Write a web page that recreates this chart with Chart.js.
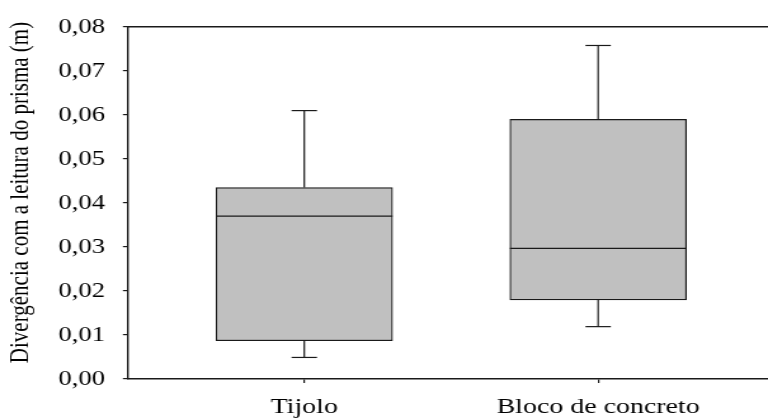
<!DOCTYPE html>
<html>
<head>
<meta charset="utf-8">
<script src="https://cdn.jsdelivr.net/npm/chart.js@4.4.1/dist/chart.umd.min.js"></script>
<style>
  html, body { margin: 0; padding: 0; background: #fff; }
</style>
</head>
<body>
<!-- the source figure is stretched sideways, so the canvas is drawn 605 wide and shown 768 wide -->
<canvas id="chart" width="605" height="420" style="width:768px;height:420px"></canvas>
<script>
const categories = ['Tijolo', 'Bloco de concreto'];
const minimo = [0.0049, 0.0119];
const quartil1 = [0.0087, 0.0180];
const mediana = [0.0370, 0.0297];
const quartil3 = [0.0435, 0.0590];
const maximo = [0.0610, 0.0758];
const yTicks = [0, 0.01, 0.02, 0.03, 0.04, 0.05, 0.06, 0.07, 0.08];

const LINE = '#1a1a1a';
const BOX_FILL = '#c0c0c0';

Chart.defaults.font.family = '"Liberation Serif", "Times New Roman", serif';
Chart.defaults.color = '#000';

// whiskers, caps and median line, placed with the chart's own scales
const boxWhiskers = {
    id: 'boxWhiskers',
    afterDatasetsDraw(chart) {
        const { ctx, scales: { x, y } } = chart;
        const meta = chart.getDatasetMeta(0);
        const seg = (x1, y1, x2, y2) => {
            ctx.beginPath();
            ctx.moveTo(x1, y1);
            ctx.lineTo(x2, y2);
            ctx.stroke();
        };
        ctx.save();
        ctx.strokeStyle = LINE;
        ctx.lineWidth = 1.2;
        categories.forEach((_, i) => {
            const cx = x.getPixelForValue(i + 1);
            const half = meta.data[i].width / 2;
            const cap = 10;
            const yMin = y.getPixelForValue(minimo[i]);
            const yQ1 = y.getPixelForValue(quartil1[i]);
            const yMed = y.getPixelForValue(mediana[i]);
            const yQ3 = y.getPixelForValue(quartil3[i]);
            const yMax = y.getPixelForValue(maximo[i]);
            seg(cx, yQ3, cx, yMax);
            seg(cx - cap, yMax, cx + cap, yMax);
            seg(cx, yQ1, cx, yMin);
            seg(cx - cap, yMin, cx + cap, yMin);
            seg(cx - half, yMed, cx + half, yMed);
        });
        ctx.restore();
    }
};

const ctx = document.getElementById('chart').getContext('2d');
new Chart(ctx, {
    type: 'bar',
    data: {
        datasets: [{
            data: categories.map((_, i) => ({ x: i + 1, y: [quartil1[i], quartil3[i]] })),
            backgroundColor: BOX_FILL,
            borderColor: LINE,
            borderWidth: 1.2,
            borderSkipped: false,
            barThickness: 139
        }]
    },
    options: {
        responsive: false,
        animation: false,
        devicePixelRatio: 1,
        layout: { padding: { top: 19, left: 0, right: 0, bottom: 0 } },
        plugins: { legend: { display: false }, tooltip: { enabled: false } },
        scales: {
            x: {
                type: 'linear',
                min: 0.4,
                max: 2.578,
                offset: false,
                afterBuildTicks: s => { s.ticks = categories.map((_, i) => ({ value: i + 1 })); },
                afterFit: s => { s.height = 41; },
                grid: { display: true, offset: false, drawOnChartArea: false, tickLength: 4, color: LINE, lineWidth: 1.2 },
                border: { display: true, color: LINE, width: 1.4 },
                ticks: {
                    padding: 11,
                    maxRotation: 0,
                    autoSkip: false,
                    font: { size: 22 },
                    callback: v => categories[v - 1] || ''
                }
            },
            xTop: {
                type: 'linear',
                position: 'top',
                min: 0.4,
                max: 2.578,
                grid: { display: false },
                ticks: { display: false },
                border: { display: true, color: LINE, width: 1.4 }
            },
            y: {
                min: 0,
                max: 0.08,
                afterBuildTicks: s => { s.ticks = yTicks.map(v => ({ value: v })); },
                afterFit: s => { s.width = 100.8; },
                grid: { display: true, drawOnChartArea: false, tickLength: 4, color: LINE, lineWidth: 1.2 },
                border: { display: true, color: LINE, width: 1.4 },
                ticks: {
                    padding: 14,
                    font: { size: 21 },
                    callback: v => v.toFixed(2).replace('.', ',')
                },
                title: {
                    display: true,
                    // leading spaces nudge the rotated title up, as in the source
                    text: '    Divergência com a leitura do prisma (m)',
                    font: { size: 21 },
                    padding: { top: 4, bottom: 0 }
                }
            }
        }
    },
    plugins: [boxWhiskers]
});
</script>
</body>
</html>
